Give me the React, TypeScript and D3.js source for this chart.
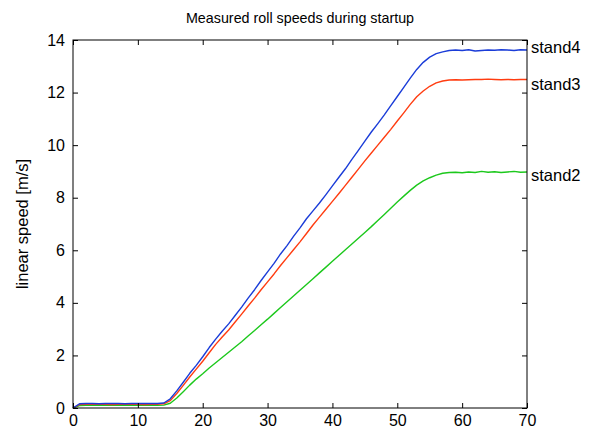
import React, { useEffect, useRef } from "react";
import * as d3 from "d3";

// time axis in seconds
const times = d3.range(0, 71);

const stand4 = [
  0, 0.16, 0.17, 0.17, 0.16, 0.17, 0.17, 0.17, 0.16, 0.17, 0.17, 0.17, 0.17, 0.17,
  0.19, 0.35, 0.65, 0.98, 1.32, 1.62, 1.95, 2.3, 2.62, 2.92, 3.2, 3.52, 3.84, 4.18,
  4.5, 4.85, 5.18, 5.5, 5.86, 6.18, 6.53, 6.85, 7.2, 7.5, 7.8, 8.12, 8.45, 8.78,
  9.1, 9.46, 9.8, 10.15, 10.5, 10.82, 11.15, 11.5, 11.85, 12.2, 12.55, 12.88, 13.15,
  13.35, 13.48, 13.55, 13.6, 13.62, 13.6, 13.63, 13.58, 13.6, 13.62, 13.61, 13.63,
  13.62, 13.6, 13.63, 13.62,
];

const stand3 = [
  0, 0.13, 0.14, 0.14, 0.14, 0.14, 0.13, 0.14, 0.14, 0.14, 0.14, 0.13, 0.14, 0.14,
  0.16, 0.28, 0.55, 0.86, 1.18, 1.48, 1.78, 2.1, 2.42, 2.7, 2.97, 3.27, 3.57, 3.88,
  4.18, 4.5, 4.8, 5.1, 5.42, 5.72, 6.02, 6.32, 6.64, 6.96, 7.26, 7.56, 7.86, 8.16,
  8.47, 8.78, 9.09, 9.4, 9.7, 10.0, 10.3, 10.6, 10.92, 11.23, 11.55, 11.84, 12.06,
  12.24, 12.37, 12.44, 12.48, 12.49, 12.48, 12.49, 12.5, 12.5, 12.51, 12.5, 12.49,
  12.5, 12.49, 12.5, 12.5,
];

const stand2 = [
  0, 0.09, 0.1, 0.1, 0.1, 0.1, 0.1, 0.1, 0.1, 0.1, 0.1, 0.1, 0.1, 0.1,
  0.11, 0.18, 0.38, 0.62, 0.87, 1.1, 1.3, 1.52, 1.72, 1.92, 2.12, 2.32, 2.52, 2.74,
  2.95, 3.17, 3.38, 3.6, 3.82, 4.04, 4.26, 4.48, 4.7, 4.92, 5.14, 5.36, 5.58, 5.8,
  6.02, 6.24, 6.46, 6.68, 6.9, 7.13, 7.36, 7.6, 7.84, 8.06, 8.28, 8.48, 8.64,
  8.76, 8.86, 8.93, 8.96, 8.97, 8.95, 8.98, 8.96, 9.0, 8.97, 8.99, 8.96,
  8.98, 9.0, 8.97, 8.98,
];

const seriesNames = ["stand2", "stand3", "stand4"];
const seriesColors = ["#1cc81c", "#ff3c10", "#1a3cd8"];
const labelValues = [8.85, 12.3, 13.72];

const xTicks = [0, 10, 20, 30, 40, 50, 60, 70];
const yTicks = [0, 2, 4, 6, 8, 10, 12, 14];

const W = 598;
const H = 430;
const margin = { top: 40, right: 71, bottom: 22, left: 73 };

export default function App() {
  const ref = useRef<SVGSVGElement>(null);

  useEffect(() => {
    const svg = d3.select(ref.current);
    svg.selectAll("*").remove();

    const width = W - margin.left - margin.right;
    const height = H - margin.top - margin.bottom;

    const x = d3.scaleLinear().domain([0, 70]).range([0, width]);
    const y = d3.scaleLinear().domain([0, 14]).range([height, 0]);

    const g = svg
      .append("g")
      .attr("transform", `translate(${margin.left},${margin.top})`);

    const font = "Liberation Sans, Arial, sans-serif";

    // lines
    const data = [stand2, stand3, stand4];
    const line = d3
      .line<number>()
      .x((d, i) => x(times[i]))
      .y((d) => y(d));

    data.forEach((vals, k) => {
      g.append("path")
        .datum(vals)
        .attr("fill", "none")
        .attr("stroke", seriesColors[k])
        .attr("stroke-width", 1.4)
        .attr("stroke-linejoin", "round")
        .attr("d", line);
    });

    // box with inward ticks on all sides
    const tk = 5;
    g.append("g")
      .attr("transform", `translate(0,${height})`)
      .call(d3.axisBottom(x).tickValues(xTicks).tickSizeInner(-tk).tickSizeOuter(0).tickPadding(7))
      .call((a) => a.select(".domain").remove());
    g.append("g")
      .call(d3.axisTop(x).tickValues(xTicks).tickSizeInner(-tk).tickSizeOuter(0).tickFormat(() => ""))
      .call((a) => a.select(".domain").remove());
    g.append("g")
      .call(d3.axisLeft(y).tickValues(yTicks).tickSizeInner(-tk).tickSizeOuter(0).tickPadding(8))
      .call((a) => a.select(".domain").remove());
    g.append("g")
      .attr("transform", `translate(${width},0)`)
      .call(d3.axisRight(y).tickValues(yTicks).tickSizeInner(-tk).tickSizeOuter(0).tickFormat(() => ""))
      .call((a) => a.select(".domain").remove());

    g.selectAll(".tick text")
      .attr("font-family", font)
      .attr("font-size", 16)
      .attr("fill", "#000");
    g.selectAll(".tick line").attr("stroke", "#000");

    g.append("rect")
      .attr("width", width)
      .attr("height", height)
      .attr("fill", "none")
      .attr("stroke", "#000")
      .attr("stroke-width", 1);

    // series labels at the right
    seriesNames.forEach((name, k) => {
      g.append("text")
        .attr("x", width + 4)
        .attr("y", y(labelValues[k]))
        .attr("dy", "0.35em")
        .attr("font-family", font)
        .attr("font-size", 16.5)
        .text(name);
    });

    // title
    svg.append("text")
      .attr("x", margin.left + width / 2)
      .attr("y", 23)
      .attr("text-anchor", "middle")
      .attr("font-family", font)
      .attr("font-size", 14.3)
      .text("Measured roll speeds during startup");

    // y label
    svg.append("text")
      .attr("transform", `translate(28,${margin.top + height / 2}) rotate(-90)`)
      .attr("text-anchor", "middle")
      .attr("font-family", font)
      .attr("font-size", 16.5)
      .text("linear speed [m/s]");
  }, []);

  return (
    <svg
      ref={ref}
      width={W}
      height={H}
      style={{ position: "absolute", left: 0, top: 0, background: "#fff" }}
    />
  );
}
